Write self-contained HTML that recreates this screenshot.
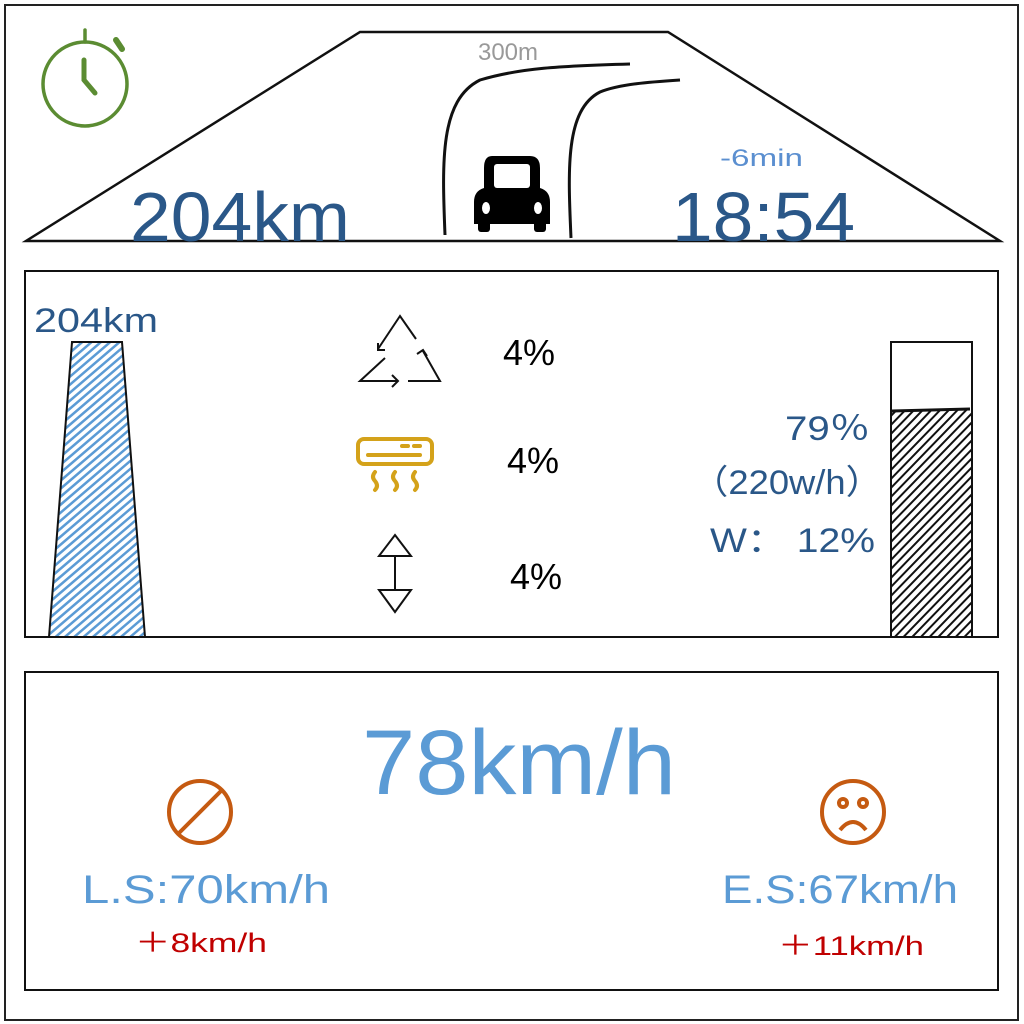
<!DOCTYPE html>
<html><head><meta charset="utf-8"><style>
html,body{margin:0;padding:0;background:#fff}
svg{display:block}
text{font-family:"Liberation Sans","Noto Sans CJK SC",sans-serif}
</style></head><body>
<svg width="1024" height="1024" viewBox="0 0 1024 1024">
<defs>
<clipPath id="lb"><polygon points="72,342 122,342 145,637 49,637"/></clipPath>
<clipPath id="rb"><rect x="892" y="410" width="79" height="227"/></clipPath>
</defs>
<rect x="5" y="5" width="1013" height="1015" fill="none" stroke="#222" stroke-width="2"/>
<polygon points="360,32 668,32 1000,241 26,241" fill="none" stroke="#111" stroke-width="2.5"/>
<g fill="none" stroke="#5b8c32" stroke-width="3.5" stroke-linecap="round">
<circle cx="85" cy="84" r="42"/><line x1="85" y1="30" x2="85" y2="42"/><line x1="116" y1="40" x2="122" y2="49" stroke-width="6"/>
<polyline points="84,60 84,80 95,93" stroke-width="5"/></g>
<text x="508" y="60" font-size="24" fill="#999" text-anchor="middle">300m</text>
<path d="M445,235 C442,160 440,100 480,80 C520,68 560,66 630,64" fill="none" stroke="#111" stroke-width="3"/>
<path d="M571,238 C568,170 565,110 600,92 C620,84 650,82 680,80" fill="none" stroke="#111" stroke-width="3"/>
<g fill="#000">
<path d="M492,156 h38 q10,0 10,12 v20 q10,3 10,14 v22 h-76 v-22 q0,-11 10,-14 v-20 q0,-12 8,-12z"/>
<rect x="478" y="220" width="12" height="12" rx="3"/><rect x="534" y="220" width="12" height="12" rx="3"/>
<rect x="494" y="164" width="36" height="24" fill="#fff" rx="3"/>
<ellipse cx="486" cy="208" rx="4" ry="6" fill="#fff"/><ellipse cx="538" cy="208" rx="4" ry="6" fill="#fff"/></g>
<text x="130" y="241" font-size="70" fill="#2a5788" textLength="220" lengthAdjust="spacingAndGlyphs">204km</text>
<text x="720" y="166" font-size="24" fill="#5b8fd0" textLength="83" lengthAdjust="spacingAndGlyphs">-6min</text>
<text x="672" y="241" font-size="70" fill="#2a5788" textLength="183" lengthAdjust="spacingAndGlyphs">18:54</text>

<rect x="25" y="271" width="973" height="366" fill="none" stroke="#111" stroke-width="2"/>
<text x="34" y="332" font-size="34" fill="#2a5788" textLength="124" lengthAdjust="spacingAndGlyphs">204km</text>
<g clip-path="url(#lb)" stroke="#5b9bd5" stroke-width="2.5">
<g id="hl"></g></g>
<polygon points="72,342 122,342 145,637 49,637" fill="none" stroke="#111" stroke-width="2"/>
<rect x="891" y="342" width="81" height="295" fill="none" stroke="#111" stroke-width="2"/>
<g clip-path="url(#rb)" stroke="#111" stroke-width="2"><g id="hr"></g></g>
<line x1="892" y1="411" x2="970" y2="409" stroke="#111" stroke-width="3"/>
<text x="785" y="440" font-size="34" fill="#2a5788" textLength="85" lengthAdjust="spacingAndGlyphs">79％</text>
<text x="692" y="494" font-size="34" fill="#2a5788" textLength="190" lengthAdjust="spacingAndGlyphs">（220w/h）</text>
<text x="710" y="552" font-size="34" fill="#2a5788" textLength="165" lengthAdjust="spacingAndGlyphs">W：  12%</text>

<g fill="none" stroke="#111" stroke-width="2">
<polyline points="416,339 400,316 378,349"/><polyline points="385,350 378,350 378,343"/>
<polyline points="385,358 360,381 398,381"/><polyline points="392,375 398,381 392,387"/>
<polyline points="408,381 440,381 423,351"/><polyline points="417,354 423,350 427,356"/></g>
<g fill="none" stroke="#d4a21a" stroke-width="4" stroke-linecap="round">
<rect x="358" y="439" width="74" height="25" rx="6"/><line x1="368" y1="455" x2="420" y2="455"/>
<line x1="402" y1="446" x2="408" y2="446"/><line x1="414" y1="446" x2="420" y2="446"/>
<path d="M375,472 q-4,5 0,9 q4,5 0,9"/><path d="M395,472 q-4,5 0,9 q4,5 0,9"/><path d="M415,472 q-4,5 0,9 q4,5 0,9"/></g>
<g fill="none" stroke="#111" stroke-width="2">
<polygon points="395,535 411,556 379,556"/><polygon points="379,590 411,590 395,612"/><line x1="395" y1="556" x2="395" y2="590"/></g>
<text x="503" y="365" font-size="36" fill="#000">4%</text>
<text x="507" y="473" font-size="36" fill="#000">4%</text>
<text x="510" y="589" font-size="36" fill="#000">4%</text>

<rect x="25" y="672" width="973" height="318" fill="none" stroke="#111" stroke-width="2"/>
<text x="362" y="794" font-size="92" fill="#5b9bd5" textLength="314" lengthAdjust="spacingAndGlyphs">78km/h</text>
<g fill="none" stroke="#c55a11" stroke-width="4">
<circle cx="200" cy="812" r="31"/><line x1="178" y1="834" x2="222" y2="790"/></g>
<text x="82" y="903" font-size="40" fill="#5b9bd5" textLength="248" lengthAdjust="spacingAndGlyphs">L.S:70km/h</text>
<text x="135" y="952" font-size="27" fill="#c00000" textLength="132" lengthAdjust="spacingAndGlyphs">＋8km/h</text>
<g fill="none" stroke="#c55a11" stroke-width="4">
<circle cx="853" cy="812" r="31"/><circle cx="843" cy="803" r="4"/><circle cx="863" cy="803" r="4"/>
<path d="M840,830 q13,-16 26,0"/></g>
<text x="722" y="903" font-size="40" fill="#5b9bd5" textLength="236" lengthAdjust="spacingAndGlyphs">E.S:67km/h</text>
<text x="778" y="955" font-size="27" fill="#c00000" textLength="146" lengthAdjust="spacingAndGlyphs">＋11km/h</text>
</svg>
<script>
var ns="http://www.w3.org/2000/svg";
function hatch(id,x0,x1,y0,y1,step){var g=document.getElementById(id);
for(var y=y0;y<y1+90;y+=step){var l=document.createElementNS(ns,"line");


l.setAttribute("x1",x0);l.setAttribute("y1",y);l.setAttribute("x2",x1);l.setAttribute("y2",y-90);g.appendChild(l);}}
hatch("hl",45,150,342,637,8);
hatch("hr",888,975,410,637,9);
</script>
</body></html>
